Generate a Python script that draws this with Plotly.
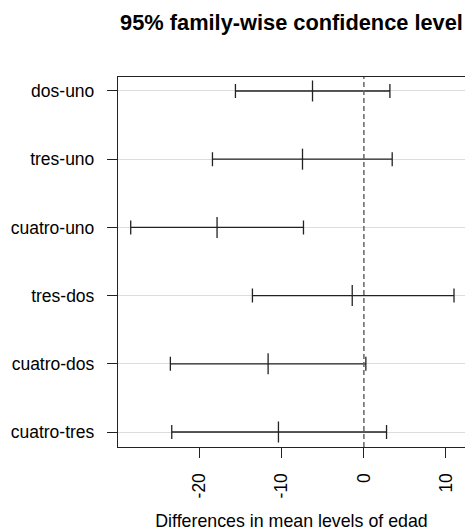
import plotly.graph_objects as go

comparisons = ["dos-uno", "tres-uno", "cuatro-uno", "tres-dos", "cuatro-dos", "cuatro-tres"]
diff = [-6.26, -7.48, -17.89, -1.42, -11.67, -10.41]
lwr = [-15.65, -18.45, -28.41, -13.58, -23.58, -23.41]
upr = [3.17, 3.45, -7.36, 10.98, 0.24, 2.76]
x_ticks = [-20, -10, 0, 10]

FONT = "Liberation Sans, Arial, sans-serif"

fig = go.Figure()
fig.add_trace(go.Scatter(
    x=diff, y=comparisons, mode="markers",
    marker=dict(symbol="line-ns", size=15, color="#222",
                line=dict(color="#222", width=1.3)),
    error_x=dict(type="data", symmetric=False,
                 array=[u - d for u, d in zip(upr, diff)],
                 arrayminus=[d - l for d, l in zip(diff, lwr)],
                 color="#222", thickness=1.3, width=7),
    showlegend=False, hoverinfo="skip",
))

fig.add_vline(x=0, line=dict(color="#666", width=1.5, dash="5px,3px"))

fig.update_layout(
    width=465, height=531,
    margin=dict(l=118, r=0, t=77, b=84),
    plot_bgcolor="white", paper_bgcolor="white",
    font=dict(family=FONT, size=17.5, color="black"),
    title=dict(text="<b>95% family-wise confidence level</b>",
               font=dict(family=FONT, size=21.8, color="black"),
               x=0.5, xref="paper", xanchor="center",
               y=1 - 22 / 531, yref="container", yanchor="middle"),
)
fig.update_xaxes(
    range=[-29.96, 12.32], tickvals=x_ticks, ticktext=[str(v) for v in x_ticks],
    tickangle=-90, ticks="outside", ticklen=10, tickwidth=1.3, tickcolor="#222",
    showline=True, linecolor="#222", linewidth=1.3, mirror=True,
    showgrid=False, zeroline=False,
    title=dict(text="Differences in mean levels of edad", standoff=19,
               font=dict(family=FONT, size=17.8, color="black")),
    ticklabelstandoff=8,
)
fig.update_yaxes(
    type="category", categoryorder="array", categoryarray=comparisons,
    range=[5.22, -0.205],
    ticks="outside", ticklen=10, tickwidth=1.3, tickcolor="#222",
    showline=True, linecolor="#222", linewidth=1.3, mirror=False,
    showgrid=True, gridcolor="#dcdcdc", gridwidth=1,
    zeroline=False, ticklabelstandoff=9,
)

fig.write_html(
    "out.html",
    config={"displayModeBar": False},
    post_script="document.body.style.margin='0';document.body.style.overflow='hidden';",
)
